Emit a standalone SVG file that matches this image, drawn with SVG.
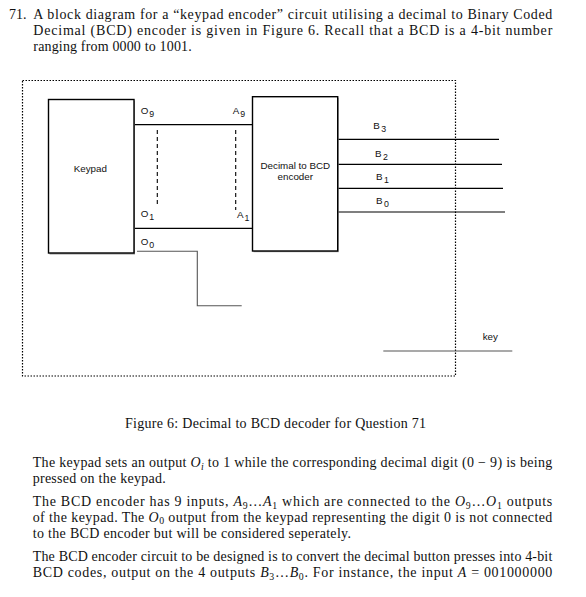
<svg xmlns="http://www.w3.org/2000/svg" width="586" height="597" viewBox="0 0 586 597">
<style>
.tx{font-family:"Liberation Serif","Times New Roman",serif;font-size:14px;fill:#111}
.it{font-style:italic}
.sb{font-size:9.8px}
.lb{font-family:"Liberation Sans",Arial,sans-serif;font-size:9.8px;fill:#111}
.ls{font-size:8.8px}
.box{fill:#fff;stroke:#000;stroke-width:1.4}
.w{fill:none;stroke:#000;stroke-width:1.2}
.g{fill:none;stroke:#555;stroke-width:1.1}
.d{fill:none;stroke:#000;stroke-width:1.1;stroke-dasharray:4,3}
</style>
<rect width="586" height="597" fill="#fff"/>
<g id="question">
<text class="tx" x="9" y="18.5">71.</text>
<text class="tx" x="33.3" y="18.5" textLength="519" lengthAdjust="spacing">A block diagram for a “keypad encoder” circuit utilising a decimal to Binary Coded</text>
<text class="tx" x="33.3" y="35" textLength="519" lengthAdjust="spacing">Decimal (BCD) encoder is given in Figure 6.  Recall that a BCD is a 4-bit number</text>
<text class="tx" x="33.3" y="51" textLength="158.4" lengthAdjust="spacing">ranging from 0000 to 1001.</text>
</g>
<rect id="frame" x="22.5" y="80.5" width="433" height="295.5" fill="none" stroke="#000" stroke-width="1.2" stroke-dasharray="1.5,1.5"/>
<g id="connectors">
<path class="w" d="M134,124.7H252.5"/>
<path class="w" d="M134,228.3H253"/>
<path class="w" d="M338,139.3H499"/>
<path class="w" d="M338,164.3H502"/>
<path class="w" d="M338,188.3H503"/>
<path class="w" d="M338,212H505"/>
<path class="g" d="M137,251.3H197.3V305.7H241.7"/>
<path class="g" d="M383.3,351H512.3"/>
<path class="d" d="M157.3,130V207"/>
<path class="d" d="M235.7,130V210"/>
</g>
<g id="keypad">
<rect x="49.5" y="100.5" width="85.5" height="154" fill="#999" stroke="none"/>
<rect class="box" x="48.5" y="99.5" width="85.5" height="153.5"/>
<text class="lb" x="90.3" y="171.5" text-anchor="middle">Keypad</text>
</g>
<g id="encoder">
<rect x="253.5" y="97.7" width="85.2" height="154.5" fill="#999" stroke="none"/>
<rect class="box" x="252.5" y="96.7" width="85.2" height="154.3"/>
<text class="lb" x="295.3" y="169" text-anchor="middle">Decimal to BCD</text>
<text class="lb" x="295.3" y="180" text-anchor="middle">encoder</text>
</g>
<g id="labels">
<text class="lb" x="140.7" y="114">O<tspan class="ls" dx="1" dy="3">9</tspan></text>
<text class="lb" x="232.7" y="114">A<tspan class="ls" dx="1" dy="3">9</tspan></text>
<text class="lb" x="140.7" y="217">O<tspan class="ls" dx="1" dy="3">1</tspan></text>
<text class="lb" x="237" y="217.5">A<tspan class="ls" dx="1" dy="3">1</tspan></text>
<text class="lb" x="140.7" y="244.5">O<tspan class="ls" dx="1" dy="3">0</tspan></text>
<text class="lb" x="373.3" y="129">B<tspan class="ls" dx="1.5" dy="3">3</tspan></text>
<text class="lb" x="375" y="156.5">B<tspan class="ls" dx="1.5" dy="3">2</tspan></text>
<text class="lb" x="376" y="180.3">B<tspan class="ls" dx="1.5" dy="3">1</tspan></text>
<text class="lb" x="376" y="204.3">B<tspan class="ls" dx="1.5" dy="3">0</tspan></text>
<text class="lb" x="482.7" y="340.3">key</text>
</g>
<g id="body">
<text class="tx" x="125" y="427.7" textLength="301" lengthAdjust="spacing">Figure 6: Decimal to BCD decoder for Question 71</text>
<text class="tx" x="32.7" y="467.3" textLength="519.6" lengthAdjust="spacing">The keypad sets an output <tspan class="it">O</tspan><tspan class="sb it" dy="2.5">i</tspan><tspan dy="-2.5"> to 1 while the corresponding decimal digit (0 − 9) is being</tspan></text>
<text class="tx" x="32.7" y="482.7" textLength="133" lengthAdjust="spacing">pressed on the keypad.</text>
<text class="tx" x="32.7" y="506" textLength="519.6" lengthAdjust="spacing">The BCD encoder has 9 inputs, <tspan class="it">A</tspan><tspan class="sb" dy="2.5">9</tspan><tspan dy="-2.5">…</tspan><tspan class="it">A</tspan><tspan class="sb" dy="2.5">1</tspan><tspan dy="-2.5"> which are connected to the </tspan><tspan class="it">O</tspan><tspan class="sb" dy="2.5">9</tspan><tspan dy="-2.5">…</tspan><tspan class="it">O</tspan><tspan class="sb" dy="2.5">1</tspan><tspan dy="-2.5"> outputs</tspan></text>
<text class="tx" x="32.7" y="521.7" textLength="519.6" lengthAdjust="spacing">of the keypad. The <tspan class="it">O</tspan><tspan class="sb" dy="2.5">0</tspan><tspan dy="-2.5"> output from the keypad representing the digit 0 is not connected</tspan></text>
<text class="tx" x="32.7" y="537.7" textLength="318.3" lengthAdjust="spacing">to the BCD encoder but will be considered seperately.</text>
<text class="tx" x="32.7" y="561" textLength="519.6" lengthAdjust="spacing">The BCD encoder circuit to be designed is to convert the decimal button presses into 4-bit</text>
<text class="tx" x="32.7" y="577.3" textLength="519.6" lengthAdjust="spacing">BCD codes, output on the 4 outputs <tspan class="it">B</tspan><tspan class="sb" dy="2.5">3</tspan><tspan dy="-2.5">…</tspan><tspan class="it">B</tspan><tspan class="sb" dy="2.5">0</tspan><tspan dy="-2.5">. For instance, the input </tspan><tspan class="it">A</tspan><tspan> = 001000000</tspan></text>
</g>
</svg>
